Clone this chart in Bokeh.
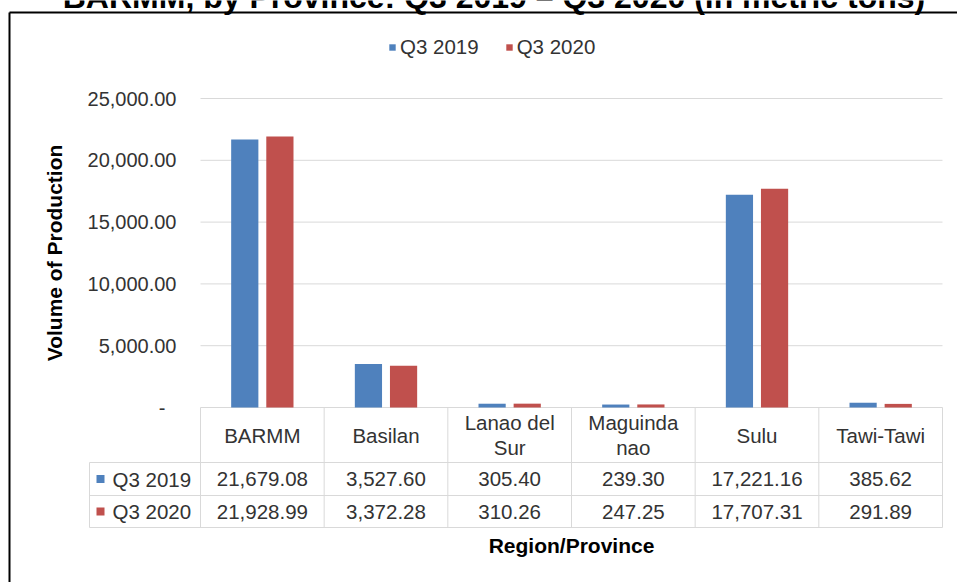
from bokeh.plotting import figure
from bokeh.models import (ColumnDataSource, Range1d, FixedTicker, LinearAxis, Label,
                          Legend, LegendItem)
from bokeh.transform import dodge
from bokeh.core.properties import value
from bokeh.embed import file_html
from bokeh.resources import INLINE

# ---------------- data ----------------
title_text = "BARMM, by Province: Q3 2019 \u2013 Q3 2020 (in metric tons)"
categories = ["BARMM", "Basilan", "Lanao del Sur", "Maguindanao", "Sulu", "Tawi-Tawi"]
header_labels = ["BARMM", "Basilan", "Lanao del\nSur", "Maguinda\nnao", "Sulu", "Tawi-Tawi"]
series_names = ["Q3 2019", "Q3 2020"]
q3_2019 = [21679.08, 3527.60, 305.40, 239.30, 17221.16, 385.62]
q3_2020 = [21928.99, 3372.28, 310.26, 247.25, 17707.31, 291.89]
y_ticks = [0, 5000, 10000, 15000, 20000, 25000]
y_tick_labels = ["-", "5,000.00", "10,000.00", "15,000.00", "20,000.00", "25,000.00"]
x_title = "Region/Province"
y_title = "Volume of Production"

# ---------------- style / layout ----------------
FONT = "Liberation Sans"
BLUE, RED = "#4F81BD", "#C0504D"
GRID = "#D9D9D9"
TXT = "#333333"
FS = "20.5px"
W, H = 957, 582
FL, FR, FT, FB = 200, 942, 98, 407          # plot area edges (canvas px)
ROW_EDGES = [462, 495, 527]                 # table row bottoms (canvas px)
KEY_X = 89                                  # left edge of the legend-key column (px)
n = len(categories)
CAT_W = (FR - FL) / n
UPP = y_ticks[-1] / (FB - FT)               # data units per pixel


def vx(px):
    return (px - FL) / CAT_W


p = figure(width=W, height=H,
           x_range=Range1d(vx(0), vx(W)),
           y_range=Range1d(-(H - FB) * UPP, FB * UPP),
           x_axis_location=None, y_axis_location=None,
           output_backend="svg", toolbar_location=None,
           min_border=0, min_border_left=0, min_border_right=0,
           min_border_top=0, min_border_bottom=0)
p.outline_line_color = None
p.grid.visible = False
p.background_fill_color = "white"
p.border_fill_color = "white"
p.extra_x_ranges = {"px": Range1d(0, W)}
p.extra_y_ranges = {"px": Range1d(H, 0)}

# ---------------- gridlines + bars ----------------
p.segment(x0=0, x1=n, y0=y_ticks, y1=y_ticks, line_color=GRID, line_width=1)

xc = [i + 0.5 for i in range(n)]
src = ColumnDataSource(dict(xc=xc, cat=categories, q19=q3_2019, q20=q3_2020))
BW, OFF = 0.22, 0.142
r19 = p.vbar(x=dodge("xc", -OFF), top="q19", width=BW, source=src,
             fill_color=BLUE, line_color=None)
r20 = p.vbar(x=dodge("xc", OFF), top="q20", width=BW, source=src,
             fill_color=RED, line_color=None)

# ---------------- y axis (fixed at the plot area's left edge) ----------------
overrides = dict(zip(y_ticks, y_tick_labels))
overrides[0] = overrides[0] + "\u00a0\u00a0"
yax = LinearAxis(ticker=FixedTicker(ticks=y_ticks), major_label_overrides=overrides,
                 fixed_location=0, bounds=(y_ticks[0], y_ticks[-1]),
                 major_tick_in=0, major_tick_out=0, minor_tick_line_color=None,
                 major_tick_line_color=None, axis_line_color=None,
                 major_label_standoff=24, major_label_text_font=FONT,
                 major_label_text_font_size="20px", major_label_text_color=TXT,
                 axis_label=y_title, axis_label_text_font=FONT,
                 axis_label_text_font_size="21px", axis_label_text_font_style="bold",
                 axis_label_text_color="black", axis_label_standoff=19)
p.add_layout(yax, "left")

# ---------------- data table under the plot ----------------
kx = vx(KEY_X)
p.segment(x0=[kx] * len(ROW_EDGES), x1=[n] * len(ROW_EDGES), y0=ROW_EDGES, y1=ROW_EDGES,
          y_range_name="px", line_color=GRID, line_width=1)
vxs = list(range(n + 1))
p.segment(x0=vxs, x1=vxs, y0=[FB] * (n + 1), y1=[ROW_EDGES[-1]] * (n + 1),
          y_range_name="px", line_color=GRID, line_width=1)
p.segment(x0=[kx], x1=[kx], y0=[ROW_EDGES[0]], y1=[ROW_EDGES[-1]], y_range_name="px",
          line_color=GRID, line_width=1)

hdr_y = (FB + ROW_EDGES[0]) / 2
r1_y = (ROW_EDGES[0] + ROW_EDGES[1]) / 2
r2_y = (ROW_EDGES[1] + ROW_EDGES[2]) / 2
tbl_src = ColumnDataSource(dict(
    xc=xc, hdr=header_labels,
    v19=[f"{v:,.2f}" for v in q3_2019], v20=[f"{v:,.2f}" for v in q3_2020],
    yh=[hdr_y] * n, y19=[r1_y] * n, y20=[r2_y] * n))
common = dict(source=tbl_src, x="xc", y_range_name="px", text_align="center",
              text_baseline="middle", text_font=value(FONT),
              text_font_size=value(FS), text_color=TXT)
p.text(y="yh", text="hdr", text_line_height=1.1, **common)
p.text(y="y19", text="v19", **common)
p.text(y="y20", text="v20", **common)

# legend keys in the table's first column
key_src = ColumnDataSource(dict(name=series_names, color=[BLUE, RED],
                                sx=[100, 100], tx=[112, 112], ty=[r1_y, r2_y]))
p.rect(x="sx", y="ty", width=8, height=8, source=key_src, fill_color="color",
       line_color=None, x_range_name="px", y_range_name="px")
p.text(x="tx", y="ty", text="name", source=key_src, x_range_name="px", y_range_name="px",
       text_align="left", text_baseline="middle", text_font=value(FONT),
       text_font_size=value(FS), text_color=TXT)

# x-axis title
p.text(x=[n / 2], y=[545], text=[x_title], y_range_name="px", text_align="center",
       text_baseline="middle", text_font=value(FONT), text_font_size=value("21px"),
       text_font_style="bold", text_color="black")

# ---------------- top legend ----------------
top_legend = Legend(items=[LegendItem(label=series_names[0], renderers=[r19]),
                           LegendItem(label=series_names[1], renderers=[r20])],
                    orientation="horizontal", location=(388, H - 59),
                    glyph_width=8, glyph_height=8, label_height=24, spacing=26,
                    label_standoff=4, padding=0, margin=0,
                    border_line_color=None, background_fill_alpha=0,
                    label_text_font=FONT, label_text_font_size=FS,
                    label_text_color=TXT)
p.add_layout(top_legend, "center")

# ---------------- title (cut off at the top) and chart border ----------------
p.add_layout(Label(x=493.5, y=-4, x_range_name="px", y_range_name="px", text=title_text,
                   text_align="center", text_baseline="alphabetic", text_font=FONT,
                   text_font_size="32px", text_font_style="bold", text_color="black"))
p.segment(x0=[9, 9], y0=[12, 12], x1=[9, W + 20], y1=[H + 20, 12],
          x_range_name="px", y_range_name="px", line_color="black", line_width=2)

open("out.html", "w").write(file_html(p, INLINE))
